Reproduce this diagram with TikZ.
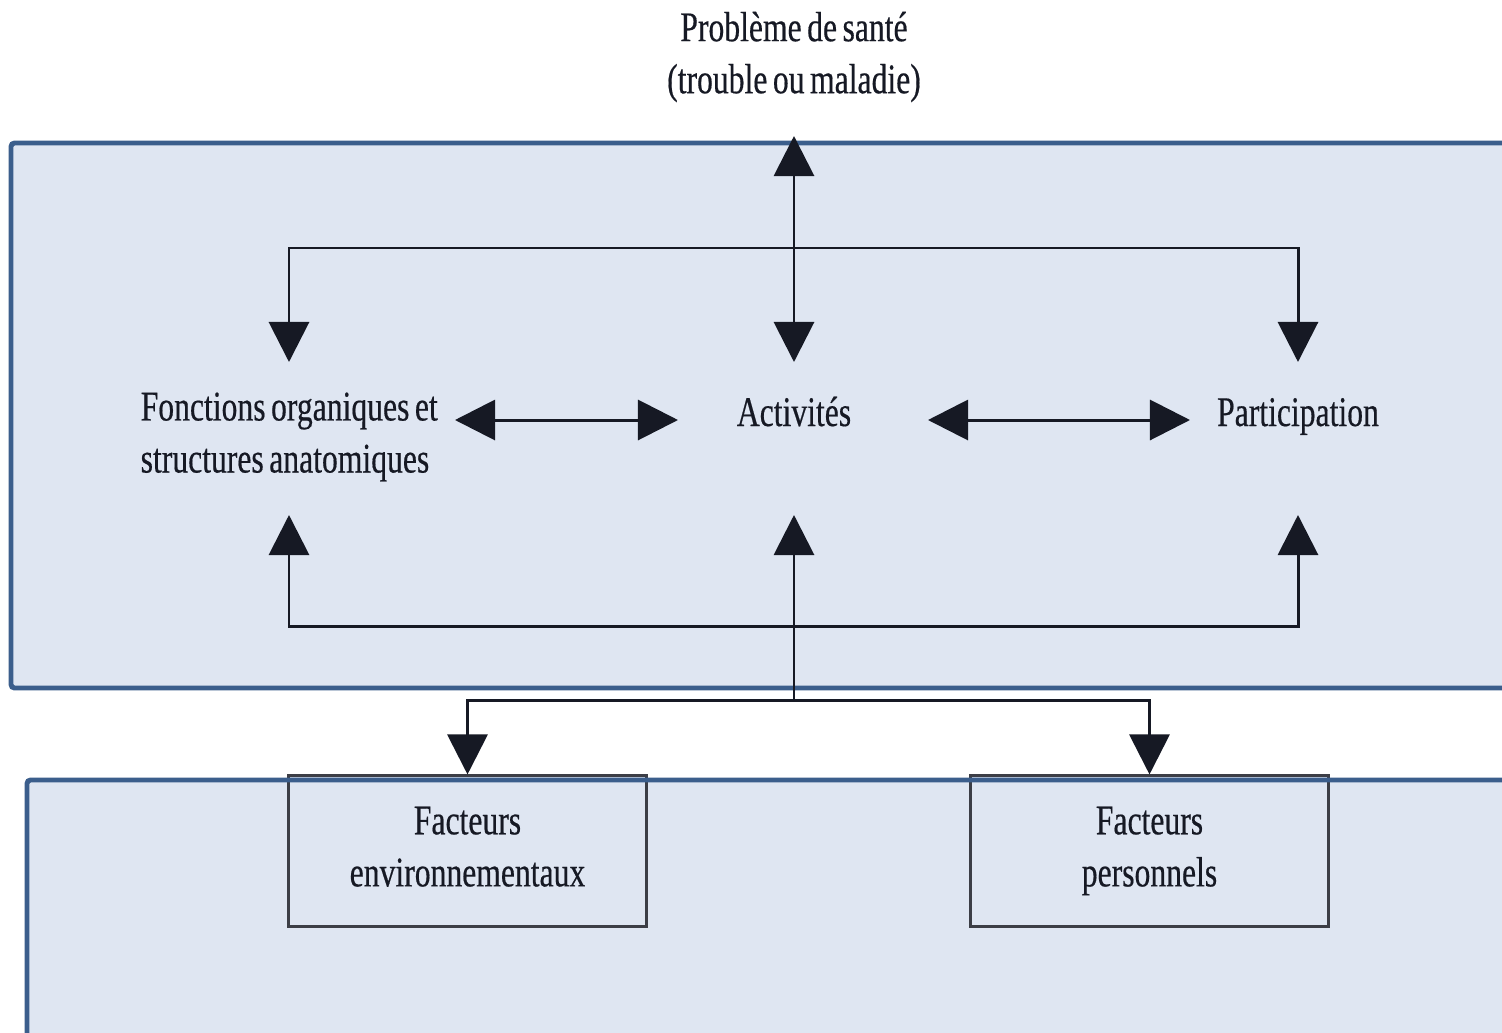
\documentclass[tikz,border=0pt]{standalone}
\usepackage{fontspec}
\setmainfont[FakeStretch=0.75,WordSpace=0.7,FakeBold=0.4]{Liberation Serif}
\usetikzlibrary{arrows.meta}
\definecolor{panelfill}{RGB}{223,230,242}
\definecolor{panelline}{RGB}{59,94,140}
\definecolor{ink}{RGB}{22,25,36}
\definecolor{boxline}{RGB}{60,62,70}
\begin{document}
\begin{tikzpicture}[x=0.01cm,y=-0.01cm,
  lbl/.style={font=\fontsize{12}{14.8}\selectfont, text=ink, inner sep=0pt, align=center},
  conn/.style={draw=ink, line width=0.85pt},
  tip/.style={-{Triangle[length=0.40cm,width=0.40cm]}},
  dbl/.style={{Triangle[length=0.40cm,width=0.40cm]}-{Triangle[length=0.40cm,width=0.40cm]}},
  panel/.style={draw=panelline, line width=1.4pt, fill=panelfill, rounded corners=1pt},
  factbox/.style={lbl, draw=boxline, line width=0.85pt, fill=panelfill,
    minimum width=3.57cm, minimum height=1.50cm}]
\useasboundingbox (0,0) rectangle (1502,1033);
\clip (0,0) rectangle (1502,1033);
% panels
\draw[panel] (11,143) rectangle (1530,688);
\fill[panelfill] (27,780) rectangle (1530,1060);
% text nodes
\node[lbl] (prob) at (794,57) {Problème de santé\\(trouble ou maladie)};
\node[lbl, align=left, anchor=west] (fonc) at (140,437) {Fonctions organiques et\\structures anatomiques};
\node[lbl, anchor=base] (act) at (794,426) {Activités};
\node[lbl, anchor=base] (part) at (1298,426) {Participation};
\node[factbox] (env) at (467.5,851) {Facteurs\\environnementaux\vphantom{p}};
\node[factbox] (pers) at (1149.5,851) {Facteurs\\personnels};
% bottom panel border over the boxes
\draw[panelline, line width=1.4pt, rounded corners=1pt] (1530,780) -- (27,780) -- (27,1060);
% arrow end points
\coordinate (probS) at (794,136);
\coordinate (actN) at (794,362);
\coordinate (foncN) at (289,362);
\coordinate (partN) at (1298,362);
\coordinate (actS) at (794,515);
\coordinate (foncS) at (289,515);
\coordinate (partS) at (1298,515);
\coordinate (foncE) at (455,420);
\coordinate (actW) at (678,420);
\coordinate (actE) at (928,420);
\coordinate (partW) at (1190,420);
\coordinate (topJ) at (794,248);
\coordinate (botJ) at (794,626);
\coordinate (lowJ) at (794,700);
% connectors
\draw[conn,dbl] (actN) -- (probS);
\draw[conn,tip] (topJ) -| (foncN);
\draw[conn,tip] (topJ) -| (partN);
\draw[conn,tip] (lowJ) -- (actS);
\draw[conn,tip] (botJ) -| (foncS);
\draw[conn,tip] (botJ) -| (partS);
\draw[conn,tip] (lowJ) -| (env.north);
\draw[conn,tip] (lowJ) -| (pers.north);
\draw[conn,dbl] (foncE) -- (actW);
\draw[conn,dbl] (actE) -- (partW);
\end{tikzpicture}
\end{document}
